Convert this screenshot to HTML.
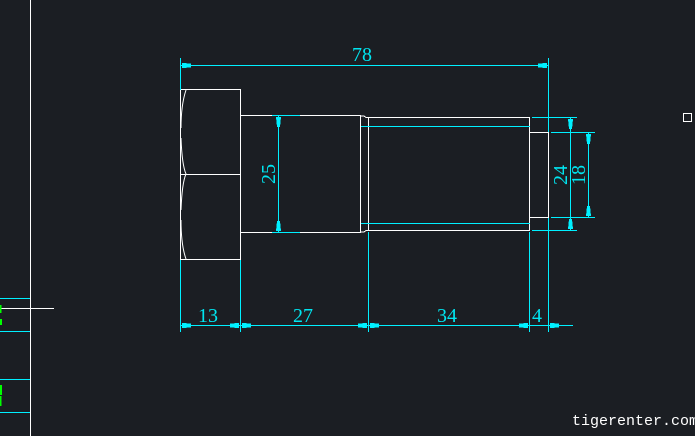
<!DOCTYPE html>
<html><head><meta charset="utf-8"><style>
html,body{margin:0;padding:0;background:#1b1e23;width:695px;height:436px;overflow:hidden}
svg{display:block}
.w{stroke:#fff;stroke-width:1;fill:none}
.c{stroke:#00f0ff;stroke-width:1;fill:none}
.t{fill:#00e5f0;font-family:"Liberation Serif",serif;font-size:20px}
.a{fill:#00f0ff}
</style></head><body>
<svg width="695" height="436" viewBox="0 0 695 436" shape-rendering="crispEdges">
<line x1="30.5" y1="0" x2="30.5" y2="436" class="w" stroke-width="1.5"/>
<line x1="0" y1="308.5" x2="54" y2="308.5" class="w"/>
<line x1="0" y1="298.5" x2="30" y2="298.5" class="c"/>
<line x1="0" y1="331.5" x2="30" y2="331.5" class="c"/>
<line x1="0" y1="379.5" x2="30" y2="379.5" class="c"/>
<line x1="0" y1="412.5" x2="30" y2="412.5" class="c"/>
<rect x="0" y="305" width="1.5" height="8" fill="#0f0"/>
<rect x="0" y="319" width="2" height="6" fill="#0f0"/>
<rect x="0" y="385" width="2" height="10" fill="#0f0"/>
<rect x="0" y="396" width="1.5" height="10" fill="#0f0"/>
<rect x="683.5" y="113.5" width="8" height="8" stroke="#fff" fill="none"/>

<rect x="180.5" y="89.5" width="60" height="170" class="w"/>
<line x1="180" y1="174.5" x2="240" y2="174.5" class="w"/>
<path d="M186 90 Q181 105 181 128 M181 138 Q182 165 186 174 Q182 183 181 210 M181 220 Q181 245 186 259" class="w" shape-rendering="auto"/>
<path d="M240 115.5 H360.5 V232.5 H240" class="w"/>
<path d="M360 116 H364 L366 117.5 H368.5 M360 232 H364 L366 230.5 H368.5" class="w"/>
<rect x="368.5" y="117.5" width="161" height="113" class="w"/>
<line x1="361" y1="126.5" x2="530" y2="126.5" class="c"/>
<line x1="361" y1="223.5" x2="530" y2="223.5" class="c"/>
<path d="M530 132.5 H548.5 V217.5 H530" class="w"/>

<line x1="180.5" y1="58" x2="180.5" y2="90" class="c"/>
<line x1="548.5" y1="58" x2="548.5" y2="132" class="c"/>
<line x1="180" y1="65.5" x2="549" y2="65.5" class="c"/>
<polygon points="182,63 191,63.5 191,67.5 182,68" class="a"/>
<polygon points="547,63 538,63.5 538,67.5 547,68" class="a"/>
<text x="362" y="61" class="t" text-anchor="middle">78</text>

<line x1="180.5" y1="260" x2="180.5" y2="332" class="c"/>
<line x1="240.5" y1="260" x2="240.5" y2="332" class="c"/>
<line x1="368.5" y1="232" x2="368.5" y2="332" class="c"/>
<line x1="529.5" y1="232" x2="529.5" y2="332" class="c"/>
<line x1="548.5" y1="218" x2="548.5" y2="332" class="c"/>
<line x1="180" y1="325.5" x2="573" y2="325.5" class="c"/>
<polygon points="182,323 191,323.5 191,327.5 182,328" class="a"/>
<polygon points="239,323 230,323.5 230,327.5 239,328" class="a"/>
<polygon points="242,323 251,323.5 251,327.5 242,328" class="a"/>
<polygon points="367,323 358,323.5 358,327.5 367,328" class="a"/>
<polygon points="370,323 379,323.5 379,327.5 370,328" class="a"/>
<polygon points="528,323 519,323.5 519,327.5 528,328" class="a"/>
<polygon points="550,323 559,323.5 559,327.5 550,328" class="a"/>
<text x="208" y="322" class="t" text-anchor="middle">13</text>
<text x="303" y="322" class="t" text-anchor="middle">27</text>
<text x="447" y="322" class="t" text-anchor="middle">34</text>
<text x="537" y="322" class="t" text-anchor="middle">4</text>

<line x1="272" y1="115.5" x2="300" y2="115.5" class="c"/>
<line x1="272" y1="232.5" x2="300" y2="232.5" class="c"/>
<line x1="278.5" y1="115" x2="278.5" y2="233" class="c"/>
<polygon points="276,117 277,127 280,127 281,117" class="a"/>
<polygon points="276,231 277,221 280,221 281,231" class="a"/>
<text transform="translate(275,174) rotate(-90)" class="t" text-anchor="middle">25</text>

<line x1="532" y1="117.5" x2="577" y2="117.5" class="c"/>
<line x1="532" y1="230.5" x2="577" y2="230.5" class="c"/>
<line x1="551" y1="132.5" x2="595" y2="132.5" class="c"/>
<line x1="551" y1="217.5" x2="595" y2="217.5" class="c"/>
<line x1="570.5" y1="117" x2="570.5" y2="231" class="c"/>
<line x1="588.5" y1="132" x2="588.5" y2="218" class="c"/>
<polygon points="568,119 569,129 572,129 573,119" class="a"/>
<polygon points="568,229 569,219 572,219 573,229" class="a"/>
<polygon points="586,134 587,144 590,144 591,134" class="a"/>
<polygon points="586,216 587,206 590,206 591,216" class="a"/>
<text transform="translate(567,175) rotate(-90)" class="t" text-anchor="middle">24</text>
<text transform="translate(585,175) rotate(-90)" class="t" text-anchor="middle">18</text>

<text x="572" y="425" fill="#fff" font-family="Liberation Mono,monospace" font-size="15">tigerenter.com</text>
</svg>
</body></html>
